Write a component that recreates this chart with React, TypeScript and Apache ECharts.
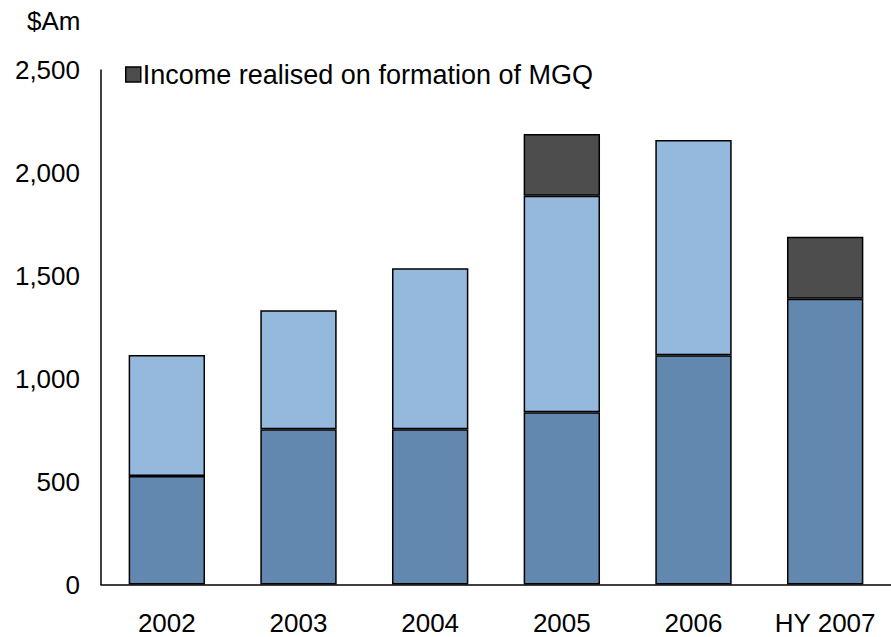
import React, { useEffect, useRef } from "react";
import * as echarts from "echarts";

const categories = ["2002", "2003", "2004", "2005", "2006", "HY 2007"];
const baseValues = [527, 754, 754, 837, 1114, 1389];
const otherValues = [588, 579, 783, 1052, 1046, null];
const mgqValues = [null, null, null, 300, null, 301];
const legendName = "Income realised on formation of MGQ";
const yTicks = [0, 500, 1000, 1500, 2000, 2500];

export default function App() {
  const ref = useRef<HTMLDivElement>(null);
  useEffect(() => {
    const chart = echarts.init(ref.current!, null, { renderer: "svg" });
    const font = "Liberation Sans, Arial, sans-serif";
    const border = { borderColor: "#000", borderWidth: 1.5 };
    chart.setOption({
      animation: false,
      textStyle: { fontFamily: font },
      grid: { left: 101, right: -9, top: 70, bottom: 52.5, containLabel: false },
      legend: {
        data: [legendName],
        left: 120,
        top: 56,
        itemWidth: 15,
        itemHeight: 15,
        icon: "rect",
        itemGap: 6,
        itemStyle: { borderColor: "#000", borderWidth: 1.5 },
        textStyle: { fontSize: 27, color: "#000", fontFamily: font, padding: [0, 0, 0, -3] },
      },
      graphic: [
        {
          type: "text",
          left: 27,
          top: 8,
          style: { text: "$Am", fontSize: 26, fill: "#000", fontFamily: font },
        },
      ],
      xAxis: {
        type: "category",
        data: categories,
        axisLine: { show: true, lineStyle: { color: "#000", width: 1.5 } },
        axisTick: { show: false },
        axisLabel: { fontSize: 26, color: "#000", margin: 25, fontFamily: font },
      },
      yAxis: {
        type: "value",
        min: yTicks[0],
        max: yTicks[yTicks.length - 1],
        interval: 500,
        axisLine: { show: true, lineStyle: { color: "#000", width: 1.5 } },
        axisTick: { show: false },
        splitLine: { show: false },
        axisLabel: {
          fontSize: 26,
          color: "#000",
          margin: 21,
          fontFamily: font,
          formatter: (v: number) => v.toLocaleString("en-US"),
        },
      },
      series: [
        {
          name: "Base",
          type: "bar",
          stack: "t",
          data: baseValues,
          barWidth: "58%",
          itemStyle: { color: "#6388b0", ...border },
        },
        {
          name: "Other",
          type: "bar",
          stack: "t",
          data: otherValues,
          itemStyle: { color: "#95b9dd", ...border },
        },
        {
          name: legendName,
          type: "bar",
          stack: "t",
          data: mgqValues,
          itemStyle: { color: "#4d4d4d", ...border },
        },
      ],
    });
    return () => chart.dispose();
  }, []);
  return (
    <div
      ref={ref}
      style={{ position: "absolute", left: 0, top: 0, width: 891, height: 637 }}
    />
  );
}
